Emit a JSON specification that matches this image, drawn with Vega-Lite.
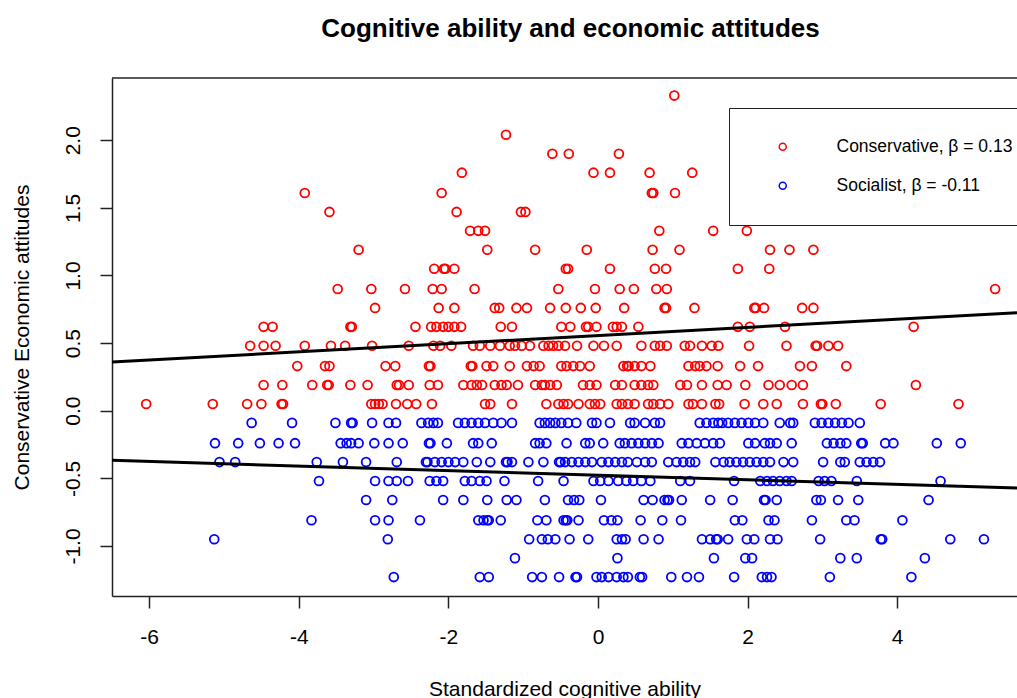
{
"$schema":"https://vega.github.io/schema/vega-lite/v6.json",
"autosize":{"type":"none"},
"padding":{"left":112,"top":78,"right":0,"bottom":102},
"width":905,"height":518,
"background":"white",
"config":{"font":"Liberation Sans","view":{"stroke":null},
 "axis":{"labelFontSize":21,"titleFontSize":21,"titleFontWeight":"normal","labelColor":"black","titleColor":"black","domainColor":"#222","tickColor":"#222","domainWidth":1.5,"tickWidth":1.5,"labelFont":"Liberation Sans","titleFont":"Liberation Sans","grid":false}},
"title":{"text":"Cognitive ability and economic attitudes","fontSize":26,"fontWeight":"bold","font":"Liberation Sans","color":"black","anchor":"middle","offset":14,"baseline":"alphabetic","dx":6},
"datasets":{
"fit":[{"x":-6.497,"y":0.360,"g":"C"},{"x":5.602,"y":0.725,"g":"C"},{"x":-6.497,"y":-0.367,"g":"S"},{"x":5.602,"y":-0.571,"g":"S"}],
"pts":[
{"x":1.02,"y":2.33,"g":"C"},{"x":-1.23,"y":2.04,"g":"C"},
{"x":-0.61,"y":1.90,"g":"C"},{"x":-0.39,"y":1.90,"g":"C"},{"x":0.28,"y":1.90,"g":"C"},
{"x":-1.82,"y":1.76,"g":"C"},{"x":-0.06,"y":1.76,"g":"C"},{"x":0.16,"y":1.76,"g":"C"},{"x":0.69,"y":1.76,"g":"C"},{"x":1.26,"y":1.76,"g":"C"},
{"x":-3.92,"y":1.61,"g":"C"},{"x":-2.09,"y":1.61,"g":"C"},{"x":0.72,"y":1.61,"g":"C"},{"x":0.74,"y":1.61,"g":"C"},{"x":1.03,"y":1.61,"g":"C"},
{"x":-3.59,"y":1.47,"g":"C"},{"x":-1.89,"y":1.47,"g":"C"},{"x":-1.03,"y":1.47,"g":"C"},{"x":-0.97,"y":1.47,"g":"C"},
{"x":-1.71,"y":1.33,"g":"C"},{"x":-1.60,"y":1.33,"g":"C"},{"x":-1.51,"y":1.33,"g":"C"},{"x":0.82,"y":1.33,"g":"C"},{"x":1.54,"y":1.33,"g":"C"},{"x":1.99,"y":1.33,"g":"C"},
{"x":-3.20,"y":1.19,"g":"C"},{"x":-1.48,"y":1.19,"g":"C"},{"x":-0.84,"y":1.19,"g":"C"},{"x":-0.15,"y":1.19,"g":"C"},{"x":0.73,"y":1.19,"g":"C"},{"x":1.09,"y":1.19,"g":"C"},{"x":2.30,"y":1.19,"g":"C"},{"x":2.56,"y":1.19,"g":"C"},{"x":2.88,"y":1.19,"g":"C"},
{"x":-2.19,"y":1.05,"g":"C"},{"x":-2.06,"y":1.05,"g":"C"},{"x":-2.04,"y":1.05,"g":"C"},{"x":-1.92,"y":1.05,"g":"C"},{"x":-0.43,"y":1.05,"g":"C"},{"x":-0.40,"y":1.05,"g":"C"},{"x":0.16,"y":1.05,"g":"C"},{"x":0.76,"y":1.05,"g":"C"},{"x":0.91,"y":1.05,"g":"C"},{"x":1.87,"y":1.05,"g":"C"},{"x":2.29,"y":1.05,"g":"C"},
{"x":-3.48,"y":0.90,"g":"C"},{"x":-3.03,"y":0.90,"g":"C"},{"x":-2.58,"y":0.90,"g":"C"},{"x":-2.21,"y":0.90,"g":"C"},{"x":-2.09,"y":0.90,"g":"C"},{"x":-1.65,"y":0.90,"g":"C"},{"x":-0.53,"y":0.90,"g":"C"},{"x":-0.04,"y":0.90,"g":"C"},{"x":0.29,"y":0.90,"g":"C"},{"x":0.48,"y":0.90,"g":"C"},{"x":0.78,"y":0.90,"g":"C"},{"x":0.92,"y":0.90,"g":"C"},{"x":5.31,"y":0.90,"g":"C"},
{"x":-2.98,"y":0.76,"g":"C"},{"x":-2.13,"y":0.76,"g":"C"},{"x":-1.92,"y":0.76,"g":"C"},{"x":-1.38,"y":0.76,"g":"C"},{"x":-1.32,"y":0.76,"g":"C"},{"x":-1.09,"y":0.76,"g":"C"},{"x":-0.95,"y":0.76,"g":"C"},{"x":-0.64,"y":0.76,"g":"C"},{"x":-0.43,"y":0.76,"g":"C"},{"x":-0.23,"y":0.76,"g":"C"},{"x":-0.03,"y":0.76,"g":"C"},{"x":0.35,"y":0.76,"g":"C"},{"x":0.89,"y":0.76,"g":"C"},{"x":0.91,"y":0.76,"g":"C"},{"x":1.29,"y":0.76,"g":"C"},{"x":2.09,"y":0.76,"g":"C"},{"x":2.11,"y":0.76,"g":"C"},{"x":2.22,"y":0.76,"g":"C"},{"x":2.73,"y":0.76,"g":"C"},{"x":2.88,"y":0.76,"g":"C"},
{"x":-4.47,"y":0.62,"g":"C"},{"x":-4.35,"y":0.62,"g":"C"},{"x":-3.31,"y":0.62,"g":"C"},{"x":-3.29,"y":0.62,"g":"C"},{"x":-2.44,"y":0.62,"g":"C"},{"x":-2.23,"y":0.62,"g":"C"},{"x":-2.16,"y":0.62,"g":"C"},{"x":-2.07,"y":0.62,"g":"C"},{"x":-2.00,"y":0.62,"g":"C"},{"x":-1.92,"y":0.62,"g":"C"},{"x":-1.83,"y":0.62,"g":"C"},{"x":-1.30,"y":0.62,"g":"C"},{"x":-1.15,"y":0.62,"g":"C"},{"x":-0.49,"y":0.62,"g":"C"},{"x":-0.37,"y":0.62,"g":"C"},{"x":-0.16,"y":0.62,"g":"C"},{"x":-0.13,"y":0.62,"g":"C"},{"x":-0.02,"y":0.62,"g":"C"},{"x":0.20,"y":0.62,"g":"C"},{"x":0.25,"y":0.62,"g":"C"},{"x":0.32,"y":0.62,"g":"C"},{"x":0.54,"y":0.62,"g":"C"},{"x":1.87,"y":0.62,"g":"C"},{"x":2.03,"y":0.62,"g":"C"},{"x":2.50,"y":0.62,"g":"C"},{"x":4.22,"y":0.62,"g":"C"},
{"x":-4.65,"y":0.48,"g":"C"},{"x":-4.47,"y":0.48,"g":"C"},{"x":-4.31,"y":0.48,"g":"C"},{"x":-3.92,"y":0.48,"g":"C"},{"x":-3.57,"y":0.48,"g":"C"},{"x":-3.38,"y":0.48,"g":"C"},{"x":-3.02,"y":0.48,"g":"C"},{"x":-2.53,"y":0.48,"g":"C"},{"x":-2.20,"y":0.48,"g":"C"},{"x":-2.11,"y":0.48,"g":"C"},{"x":-1.96,"y":0.48,"g":"C"},{"x":-1.67,"y":0.48,"g":"C"},{"x":-1.58,"y":0.48,"g":"C"},{"x":-1.44,"y":0.48,"g":"C"},{"x":-1.31,"y":0.48,"g":"C"},{"x":-1.18,"y":0.48,"g":"C"},{"x":-1.11,"y":0.48,"g":"C"},{"x":-1.02,"y":0.48,"g":"C"},{"x":-0.91,"y":0.48,"g":"C"},{"x":-0.73,"y":0.48,"g":"C"},{"x":-0.66,"y":0.48,"g":"C"},{"x":-0.60,"y":0.48,"g":"C"},{"x":-0.53,"y":0.48,"g":"C"},{"x":-0.44,"y":0.48,"g":"C"},{"x":-0.28,"y":0.48,"g":"C"},{"x":-0.06,"y":0.48,"g":"C"},{"x":0.08,"y":0.48,"g":"C"},{"x":0.25,"y":0.48,"g":"C"},{"x":0.58,"y":0.48,"g":"C"},{"x":0.76,"y":0.48,"g":"C"},{"x":0.83,"y":0.48,"g":"C"},{"x":0.92,"y":0.48,"g":"C"},{"x":1.16,"y":0.48,"g":"C"},{"x":1.23,"y":0.48,"g":"C"},{"x":1.39,"y":0.48,"g":"C"},{"x":1.52,"y":0.48,"g":"C"},{"x":1.61,"y":0.48,"g":"C"},{"x":2.02,"y":0.48,"g":"C"},{"x":2.52,"y":0.48,"g":"C"},{"x":2.91,"y":0.48,"g":"C"},{"x":2.93,"y":0.48,"g":"C"},{"x":3.08,"y":0.48,"g":"C"},{"x":3.21,"y":0.48,"g":"C"},
{"x":-4.02,"y":0.33,"g":"C"},{"x":-3.65,"y":0.33,"g":"C"},{"x":-3.59,"y":0.33,"g":"C"},{"x":-2.84,"y":0.33,"g":"C"},{"x":-2.71,"y":0.33,"g":"C"},{"x":-2.26,"y":0.33,"g":"C"},{"x":-2.24,"y":0.33,"g":"C"},{"x":-1.70,"y":0.33,"g":"C"},{"x":-1.68,"y":0.33,"g":"C"},{"x":-1.49,"y":0.33,"g":"C"},{"x":-1.40,"y":0.33,"g":"C"},{"x":-1.18,"y":0.33,"g":"C"},{"x":-0.95,"y":0.33,"g":"C"},{"x":-0.86,"y":0.33,"g":"C"},{"x":-0.78,"y":0.33,"g":"C"},{"x":-0.49,"y":0.33,"g":"C"},{"x":-0.42,"y":0.33,"g":"C"},{"x":-0.33,"y":0.33,"g":"C"},{"x":-0.24,"y":0.33,"g":"C"},{"x":-0.11,"y":0.33,"g":"C"},{"x":0.34,"y":0.33,"g":"C"},{"x":0.39,"y":0.33,"g":"C"},{"x":0.41,"y":0.33,"g":"C"},{"x":0.49,"y":0.33,"g":"C"},{"x":0.58,"y":0.33,"g":"C"},{"x":0.70,"y":0.33,"g":"C"},{"x":1.21,"y":0.33,"g":"C"},{"x":1.30,"y":0.33,"g":"C"},{"x":1.36,"y":0.33,"g":"C"},{"x":1.45,"y":0.33,"g":"C"},{"x":1.60,"y":0.33,"g":"C"},{"x":1.90,"y":0.33,"g":"C"},{"x":2.14,"y":0.33,"g":"C"},{"x":2.70,"y":0.33,"g":"C"},{"x":2.86,"y":0.33,"g":"C"},{"x":3.32,"y":0.33,"g":"C"},
{"x":-4.47,"y":0.19,"g":"C"},{"x":-4.22,"y":0.19,"g":"C"},{"x":-3.82,"y":0.19,"g":"C"},{"x":-3.62,"y":0.19,"g":"C"},{"x":-3.60,"y":0.19,"g":"C"},{"x":-3.31,"y":0.19,"g":"C"},{"x":-3.08,"y":0.19,"g":"C"},{"x":-2.69,"y":0.19,"g":"C"},{"x":-2.66,"y":0.19,"g":"C"},{"x":-2.53,"y":0.19,"g":"C"},{"x":-2.25,"y":0.19,"g":"C"},{"x":-2.14,"y":0.19,"g":"C"},{"x":-1.80,"y":0.19,"g":"C"},{"x":-1.69,"y":0.19,"g":"C"},{"x":-1.62,"y":0.19,"g":"C"},{"x":-1.55,"y":0.19,"g":"C"},{"x":-1.38,"y":0.19,"g":"C"},{"x":-1.29,"y":0.19,"g":"C"},{"x":-1.22,"y":0.19,"g":"C"},{"x":-1.07,"y":0.19,"g":"C"},{"x":-0.84,"y":0.19,"g":"C"},{"x":-0.75,"y":0.19,"g":"C"},{"x":-0.71,"y":0.19,"g":"C"},{"x":-0.64,"y":0.19,"g":"C"},{"x":-0.55,"y":0.19,"g":"C"},{"x":-0.20,"y":0.19,"g":"C"},{"x":-0.11,"y":0.19,"g":"C"},{"x":-0.02,"y":0.19,"g":"C"},{"x":0.23,"y":0.19,"g":"C"},{"x":0.32,"y":0.19,"g":"C"},{"x":0.49,"y":0.19,"g":"C"},{"x":0.58,"y":0.19,"g":"C"},{"x":0.67,"y":0.19,"g":"C"},{"x":0.74,"y":0.19,"g":"C"},{"x":1.10,"y":0.19,"g":"C"},{"x":1.19,"y":0.19,"g":"C"},{"x":1.39,"y":0.19,"g":"C"},{"x":1.60,"y":0.19,"g":"C"},{"x":1.72,"y":0.19,"g":"C"},{"x":1.97,"y":0.19,"g":"C"},{"x":2.28,"y":0.19,"g":"C"},{"x":2.43,"y":0.19,"g":"C"},{"x":2.59,"y":0.19,"g":"C"},{"x":2.74,"y":0.19,"g":"C"},{"x":4.25,"y":0.19,"g":"C"},
{"x":-6.04,"y":0.05,"g":"C"},{"x":-5.15,"y":0.05,"g":"C"},{"x":-4.69,"y":0.05,"g":"C"},{"x":-4.50,"y":0.05,"g":"C"},{"x":-4.23,"y":0.05,"g":"C"},{"x":-4.21,"y":0.05,"g":"C"},{"x":-3.03,"y":0.05,"g":"C"},{"x":-2.98,"y":0.05,"g":"C"},{"x":-2.93,"y":0.05,"g":"C"},{"x":-2.88,"y":0.05,"g":"C"},{"x":-2.70,"y":0.05,"g":"C"},{"x":-2.55,"y":0.05,"g":"C"},{"x":-2.43,"y":0.05,"g":"C"},{"x":-2.22,"y":0.05,"g":"C"},{"x":-1.51,"y":0.05,"g":"C"},{"x":-1.44,"y":0.05,"g":"C"},{"x":-1.15,"y":0.05,"g":"C"},{"x":-0.69,"y":0.05,"g":"C"},{"x":-0.53,"y":0.05,"g":"C"},{"x":-0.46,"y":0.05,"g":"C"},{"x":-0.40,"y":0.05,"g":"C"},{"x":-0.26,"y":0.05,"g":"C"},{"x":-0.11,"y":0.05,"g":"C"},{"x":-0.04,"y":0.05,"g":"C"},{"x":0.03,"y":0.05,"g":"C"},{"x":0.25,"y":0.05,"g":"C"},{"x":0.32,"y":0.05,"g":"C"},{"x":0.40,"y":0.05,"g":"C"},{"x":0.49,"y":0.05,"g":"C"},{"x":0.67,"y":0.05,"g":"C"},{"x":0.74,"y":0.05,"g":"C"},{"x":0.83,"y":0.05,"g":"C"},{"x":0.94,"y":0.05,"g":"C"},{"x":1.21,"y":0.05,"g":"C"},{"x":1.27,"y":0.05,"g":"C"},{"x":1.39,"y":0.05,"g":"C"},{"x":1.57,"y":0.05,"g":"C"},{"x":1.62,"y":0.05,"g":"C"},{"x":1.96,"y":0.05,"g":"C"},{"x":2.21,"y":0.05,"g":"C"},{"x":2.39,"y":0.05,"g":"C"},{"x":2.74,"y":0.05,"g":"C"},{"x":2.98,"y":0.05,"g":"C"},{"x":3.00,"y":0.05,"g":"C"},{"x":3.18,"y":0.05,"g":"C"},{"x":3.78,"y":0.05,"g":"C"},{"x":4.82,"y":0.05,"g":"C"},
{"x":-4.63,"y":-0.09,"g":"S"},{"x":-4.09,"y":-0.09,"g":"S"},{"x":-3.51,"y":-0.09,"g":"S"},{"x":-3.30,"y":-0.09,"g":"S"},{"x":-3.28,"y":-0.09,"g":"S"},{"x":-3.02,"y":-0.09,"g":"S"},{"x":-2.80,"y":-0.09,"g":"S"},{"x":-2.70,"y":-0.09,"g":"S"},{"x":-2.36,"y":-0.09,"g":"S"},{"x":-2.27,"y":-0.09,"g":"S"},{"x":-2.20,"y":-0.09,"g":"S"},{"x":-2.14,"y":-0.09,"g":"S"},{"x":-1.87,"y":-0.09,"g":"S"},{"x":-1.78,"y":-0.09,"g":"S"},{"x":-1.69,"y":-0.09,"g":"S"},{"x":-1.60,"y":-0.09,"g":"S"},{"x":-1.51,"y":-0.09,"g":"S"},{"x":-1.40,"y":-0.09,"g":"S"},{"x":-1.29,"y":-0.09,"g":"S"},{"x":-1.15,"y":-0.09,"g":"S"},{"x":-0.78,"y":-0.09,"g":"S"},{"x":-0.71,"y":-0.09,"g":"S"},{"x":-0.64,"y":-0.09,"g":"S"},{"x":-0.57,"y":-0.09,"g":"S"},{"x":-0.49,"y":-0.09,"g":"S"},{"x":-0.40,"y":-0.09,"g":"S"},{"x":-0.29,"y":-0.09,"g":"S"},{"x":-0.08,"y":-0.09,"g":"S"},{"x":-0.02,"y":-0.09,"g":"S"},{"x":0.16,"y":-0.09,"g":"S"},{"x":0.43,"y":-0.09,"g":"S"},{"x":0.49,"y":-0.09,"g":"S"},{"x":0.63,"y":-0.09,"g":"S"},{"x":0.76,"y":-0.09,"g":"S"},{"x":0.83,"y":-0.09,"g":"S"},{"x":1.36,"y":-0.09,"g":"S"},{"x":1.45,"y":-0.09,"g":"S"},{"x":1.54,"y":-0.09,"g":"S"},{"x":1.61,"y":-0.09,"g":"S"},{"x":1.66,"y":-0.09,"g":"S"},{"x":1.74,"y":-0.09,"g":"S"},{"x":1.83,"y":-0.09,"g":"S"},{"x":1.92,"y":-0.09,"g":"S"},{"x":2.01,"y":-0.09,"g":"S"},{"x":2.10,"y":-0.09,"g":"S"},{"x":2.21,"y":-0.09,"g":"S"},{"x":2.43,"y":-0.09,"g":"S"},{"x":2.57,"y":-0.09,"g":"S"},{"x":2.61,"y":-0.09,"g":"S"},{"x":2.90,"y":-0.09,"g":"S"},{"x":2.99,"y":-0.09,"g":"S"},{"x":3.08,"y":-0.09,"g":"S"},{"x":3.17,"y":-0.09,"g":"S"},{"x":3.26,"y":-0.09,"g":"S"},{"x":3.35,"y":-0.09,"g":"S"},{"x":3.50,"y":-0.09,"g":"S"},
{"x":-5.12,"y":-0.24,"g":"S"},{"x":-4.81,"y":-0.24,"g":"S"},{"x":-4.52,"y":-0.24,"g":"S"},{"x":-4.27,"y":-0.24,"g":"S"},{"x":-4.05,"y":-0.24,"g":"S"},{"x":-3.44,"y":-0.24,"g":"S"},{"x":-3.36,"y":-0.24,"g":"S"},{"x":-3.30,"y":-0.24,"g":"S"},{"x":-3.20,"y":-0.24,"g":"S"},{"x":-2.99,"y":-0.24,"g":"S"},{"x":-2.80,"y":-0.24,"g":"S"},{"x":-2.61,"y":-0.24,"g":"S"},{"x":-2.26,"y":-0.24,"g":"S"},{"x":-2.24,"y":-0.24,"g":"S"},{"x":-2.02,"y":-0.24,"g":"S"},{"x":-1.67,"y":-0.24,"g":"S"},{"x":-1.60,"y":-0.24,"g":"S"},{"x":-1.42,"y":-0.24,"g":"S"},{"x":-0.84,"y":-0.24,"g":"S"},{"x":-0.78,"y":-0.24,"g":"S"},{"x":-0.69,"y":-0.24,"g":"S"},{"x":-0.42,"y":-0.24,"g":"S"},{"x":-0.17,"y":-0.24,"g":"S"},{"x":-0.11,"y":-0.24,"g":"S"},{"x":0.07,"y":-0.24,"g":"S"},{"x":0.29,"y":-0.24,"g":"S"},{"x":0.36,"y":-0.24,"g":"S"},{"x":0.45,"y":-0.24,"g":"S"},{"x":0.54,"y":-0.24,"g":"S"},{"x":0.63,"y":-0.24,"g":"S"},{"x":0.72,"y":-0.24,"g":"S"},{"x":0.81,"y":-0.24,"g":"S"},{"x":1.12,"y":-0.24,"g":"S"},{"x":1.21,"y":-0.24,"g":"S"},{"x":1.32,"y":-0.24,"g":"S"},{"x":1.43,"y":-0.24,"g":"S"},{"x":1.54,"y":-0.24,"g":"S"},{"x":1.63,"y":-0.24,"g":"S"},{"x":2.01,"y":-0.24,"g":"S"},{"x":2.10,"y":-0.24,"g":"S"},{"x":2.23,"y":-0.24,"g":"S"},{"x":2.30,"y":-0.24,"g":"S"},{"x":2.39,"y":-0.24,"g":"S"},{"x":2.59,"y":-0.24,"g":"S"},{"x":3.06,"y":-0.24,"g":"S"},{"x":3.15,"y":-0.24,"g":"S"},{"x":3.24,"y":-0.24,"g":"S"},{"x":3.32,"y":-0.24,"g":"S"},{"x":3.52,"y":-0.24,"g":"S"},{"x":3.54,"y":-0.24,"g":"S"},{"x":3.84,"y":-0.24,"g":"S"},{"x":3.95,"y":-0.24,"g":"S"},{"x":4.53,"y":-0.24,"g":"S"},{"x":4.85,"y":-0.24,"g":"S"},
{"x":-5.06,"y":-0.38,"g":"S"},{"x":-4.85,"y":-0.38,"g":"S"},{"x":-3.76,"y":-0.38,"g":"S"},{"x":-3.41,"y":-0.38,"g":"S"},{"x":-3.10,"y":-0.38,"g":"S"},{"x":-2.69,"y":-0.38,"g":"S"},{"x":-2.30,"y":-0.38,"g":"S"},{"x":-2.28,"y":-0.38,"g":"S"},{"x":-2.18,"y":-0.38,"g":"S"},{"x":-2.09,"y":-0.38,"g":"S"},{"x":-2.00,"y":-0.38,"g":"S"},{"x":-1.91,"y":-0.38,"g":"S"},{"x":-1.80,"y":-0.38,"g":"S"},{"x":-1.62,"y":-0.38,"g":"S"},{"x":-1.44,"y":-0.38,"g":"S"},{"x":-1.23,"y":-0.38,"g":"S"},{"x":-1.21,"y":-0.38,"g":"S"},{"x":-1.15,"y":-0.38,"g":"S"},{"x":-0.93,"y":-0.38,"g":"S"},{"x":-0.73,"y":-0.38,"g":"S"},{"x":-0.52,"y":-0.38,"g":"S"},{"x":-0.50,"y":-0.38,"g":"S"},{"x":-0.44,"y":-0.38,"g":"S"},{"x":-0.35,"y":-0.38,"g":"S"},{"x":-0.26,"y":-0.38,"g":"S"},{"x":-0.17,"y":-0.38,"g":"S"},{"x":-0.08,"y":-0.38,"g":"S"},{"x":0.05,"y":-0.38,"g":"S"},{"x":0.14,"y":-0.38,"g":"S"},{"x":0.23,"y":-0.38,"g":"S"},{"x":0.32,"y":-0.38,"g":"S"},{"x":0.40,"y":-0.38,"g":"S"},{"x":0.52,"y":-0.38,"g":"S"},{"x":0.63,"y":-0.38,"g":"S"},{"x":0.72,"y":-0.38,"g":"S"},{"x":0.94,"y":-0.38,"g":"S"},{"x":1.05,"y":-0.38,"g":"S"},{"x":1.14,"y":-0.38,"g":"S"},{"x":1.23,"y":-0.38,"g":"S"},{"x":1.30,"y":-0.38,"g":"S"},{"x":1.57,"y":-0.38,"g":"S"},{"x":1.68,"y":-0.38,"g":"S"},{"x":1.76,"y":-0.38,"g":"S"},{"x":1.85,"y":-0.38,"g":"S"},{"x":1.94,"y":-0.38,"g":"S"},{"x":2.03,"y":-0.38,"g":"S"},{"x":2.12,"y":-0.38,"g":"S"},{"x":2.21,"y":-0.38,"g":"S"},{"x":2.30,"y":-0.38,"g":"S"},{"x":2.48,"y":-0.38,"g":"S"},{"x":2.61,"y":-0.38,"g":"S"},{"x":3.01,"y":-0.38,"g":"S"},{"x":3.24,"y":-0.38,"g":"S"},{"x":3.30,"y":-0.38,"g":"S"},{"x":3.50,"y":-0.38,"g":"S"},{"x":3.59,"y":-0.38,"g":"S"},{"x":3.68,"y":-0.38,"g":"S"},{"x":3.77,"y":-0.38,"g":"S"},
{"x":-3.73,"y":-0.52,"g":"S"},{"x":-2.98,"y":-0.52,"g":"S"},{"x":-2.80,"y":-0.52,"g":"S"},{"x":-2.69,"y":-0.52,"g":"S"},{"x":-2.54,"y":-0.52,"g":"S"},{"x":-2.25,"y":-0.52,"g":"S"},{"x":-2.16,"y":-0.52,"g":"S"},{"x":-2.07,"y":-0.52,"g":"S"},{"x":-1.78,"y":-0.52,"g":"S"},{"x":-1.69,"y":-0.52,"g":"S"},{"x":-1.58,"y":-0.52,"g":"S"},{"x":-1.49,"y":-0.52,"g":"S"},{"x":-1.25,"y":-0.52,"g":"S"},{"x":-0.80,"y":-0.52,"g":"S"},{"x":-0.46,"y":-0.52,"g":"S"},{"x":-0.06,"y":-0.52,"g":"S"},{"x":0.03,"y":-0.52,"g":"S"},{"x":0.14,"y":-0.52,"g":"S"},{"x":0.27,"y":-0.52,"g":"S"},{"x":0.38,"y":-0.52,"g":"S"},{"x":0.47,"y":-0.52,"g":"S"},{"x":0.58,"y":-0.52,"g":"S"},{"x":0.70,"y":-0.52,"g":"S"},{"x":1.10,"y":-0.52,"g":"S"},{"x":1.23,"y":-0.52,"g":"S"},{"x":1.82,"y":-0.52,"g":"S"},{"x":2.17,"y":-0.52,"g":"S"},{"x":2.26,"y":-0.52,"g":"S"},{"x":2.34,"y":-0.52,"g":"S"},{"x":2.43,"y":-0.52,"g":"S"},{"x":2.52,"y":-0.52,"g":"S"},{"x":2.59,"y":-0.52,"g":"S"},{"x":2.95,"y":-0.52,"g":"S"},{"x":3.03,"y":-0.52,"g":"S"},{"x":3.12,"y":-0.52,"g":"S"},{"x":3.46,"y":-0.52,"g":"S"},{"x":4.58,"y":-0.52,"g":"S"},
{"x":-3.10,"y":-0.66,"g":"S"},{"x":-2.75,"y":-0.66,"g":"S"},{"x":-2.07,"y":-0.66,"g":"S"},{"x":-1.80,"y":-0.66,"g":"S"},{"x":-1.48,"y":-0.66,"g":"S"},{"x":-1.22,"y":-0.66,"g":"S"},{"x":-1.09,"y":-0.66,"g":"S"},{"x":-0.71,"y":-0.66,"g":"S"},{"x":-0.40,"y":-0.66,"g":"S"},{"x":-0.32,"y":-0.66,"g":"S"},{"x":-0.25,"y":-0.66,"g":"S"},{"x":0.04,"y":-0.66,"g":"S"},{"x":0.61,"y":-0.66,"g":"S"},{"x":0.73,"y":-0.66,"g":"S"},{"x":0.89,"y":-0.66,"g":"S"},{"x":0.93,"y":-0.66,"g":"S"},{"x":0.95,"y":-0.66,"g":"S"},{"x":1.12,"y":-0.66,"g":"S"},{"x":1.50,"y":-0.66,"g":"S"},{"x":1.80,"y":-0.66,"g":"S"},{"x":2.22,"y":-0.66,"g":"S"},{"x":2.24,"y":-0.66,"g":"S"},{"x":2.39,"y":-0.66,"g":"S"},{"x":2.92,"y":-0.66,"g":"S"},{"x":2.98,"y":-0.66,"g":"S"},{"x":3.21,"y":-0.66,"g":"S"},{"x":3.48,"y":-0.66,"g":"S"},{"x":4.42,"y":-0.66,"g":"S"},
{"x":-3.83,"y":-0.81,"g":"S"},{"x":-2.98,"y":-0.81,"g":"S"},{"x":-2.80,"y":-0.81,"g":"S"},{"x":-2.38,"y":-0.81,"g":"S"},{"x":-1.60,"y":-0.81,"g":"S"},{"x":-1.53,"y":-0.81,"g":"S"},{"x":-1.48,"y":-0.81,"g":"S"},{"x":-1.46,"y":-0.81,"g":"S"},{"x":-1.30,"y":-0.81,"g":"S"},{"x":-0.81,"y":-0.81,"g":"S"},{"x":-0.69,"y":-0.81,"g":"S"},{"x":-0.46,"y":-0.81,"g":"S"},{"x":-0.43,"y":-0.81,"g":"S"},{"x":-0.41,"y":-0.81,"g":"S"},{"x":-0.26,"y":-0.81,"g":"S"},{"x":0.08,"y":-0.81,"g":"S"},{"x":0.18,"y":-0.81,"g":"S"},{"x":0.26,"y":-0.81,"g":"S"},{"x":0.57,"y":-0.81,"g":"S"},{"x":0.86,"y":-0.81,"g":"S"},{"x":1.11,"y":-0.81,"g":"S"},{"x":1.83,"y":-0.81,"g":"S"},{"x":1.93,"y":-0.81,"g":"S"},{"x":2.28,"y":-0.81,"g":"S"},{"x":2.36,"y":-0.81,"g":"S"},{"x":2.86,"y":-0.81,"g":"S"},{"x":3.32,"y":-0.81,"g":"S"},{"x":3.43,"y":-0.81,"g":"S"},{"x":4.07,"y":-0.81,"g":"S"},
{"x":-5.13,"y":-0.95,"g":"S"},{"x":-2.81,"y":-0.95,"g":"S"},{"x":-0.92,"y":-0.95,"g":"S"},{"x":-0.75,"y":-0.95,"g":"S"},{"x":-0.67,"y":-0.95,"g":"S"},{"x":-0.57,"y":-0.95,"g":"S"},{"x":-0.38,"y":-0.95,"g":"S"},{"x":-0.13,"y":-0.95,"g":"S"},{"x":0.25,"y":-0.95,"g":"S"},{"x":0.32,"y":-0.95,"g":"S"},{"x":0.37,"y":-0.95,"g":"S"},{"x":0.61,"y":-0.95,"g":"S"},{"x":0.81,"y":-0.95,"g":"S"},{"x":1.39,"y":-0.95,"g":"S"},{"x":1.50,"y":-0.95,"g":"S"},{"x":1.58,"y":-0.95,"g":"S"},{"x":1.60,"y":-0.95,"g":"S"},{"x":1.74,"y":-0.95,"g":"S"},{"x":1.99,"y":-0.95,"g":"S"},{"x":2.09,"y":-0.95,"g":"S"},{"x":2.30,"y":-0.95,"g":"S"},{"x":2.40,"y":-0.95,"g":"S"},{"x":2.97,"y":-0.95,"g":"S"},{"x":3.78,"y":-0.95,"g":"S"},{"x":3.80,"y":-0.95,"g":"S"},{"x":4.71,"y":-0.95,"g":"S"},{"x":5.16,"y":-0.95,"g":"S"},
{"x":-1.11,"y":-1.09,"g":"S"},{"x":0.26,"y":-1.09,"g":"S"},{"x":1.55,"y":-1.09,"g":"S"},{"x":1.97,"y":-1.09,"g":"S"},{"x":2.06,"y":-1.09,"g":"S"},{"x":3.24,"y":-1.09,"g":"S"},{"x":3.46,"y":-1.09,"g":"S"},{"x":4.37,"y":-1.09,"g":"S"},
{"x":-2.73,"y":-1.23,"g":"S"},{"x":-1.58,"y":-1.23,"g":"S"},{"x":-1.46,"y":-1.23,"g":"S"},{"x":-0.88,"y":-1.23,"g":"S"},{"x":-0.75,"y":-1.23,"g":"S"},{"x":-0.52,"y":-1.23,"g":"S"},{"x":-0.30,"y":-1.23,"g":"S"},{"x":-0.28,"y":-1.23,"g":"S"},{"x":-0.02,"y":-1.23,"g":"S"},{"x":0.05,"y":-1.23,"g":"S"},{"x":0.14,"y":-1.23,"g":"S"},{"x":0.25,"y":-1.23,"g":"S"},{"x":0.34,"y":-1.23,"g":"S"},{"x":0.40,"y":-1.23,"g":"S"},{"x":0.56,"y":-1.23,"g":"S"},{"x":0.59,"y":-1.23,"g":"S"},{"x":0.98,"y":-1.23,"g":"S"},{"x":1.19,"y":-1.23,"g":"S"},{"x":1.35,"y":-1.23,"g":"S"},{"x":1.82,"y":-1.23,"g":"S"},{"x":2.19,"y":-1.23,"g":"S"},{"x":2.26,"y":-1.23,"g":"S"},{"x":2.32,"y":-1.23,"g":"S"},{"x":3.10,"y":-1.23,"g":"S"},{"x":4.19,"y":-1.23,"g":"S"}
]},
"layer":[
{"data":{"name":"pts"},
 "mark":{"type":"point","shape":"circle","filled":false,"size":78,"strokeWidth":1.8,"opacity":1},
 "encoding":{
  "x":{"field":"x","type":"quantitative","title":"Standardized cognitive ability","scale":{"domain":[-6.497,5.602],"nice":false,"zero":false},
       "axis":{"values":[-6,-4,-2,0,2,4],"format":"d","labelExpr":"replace(format(datum.value, 'd'), '−', '-')","tickSize":12,"labelPadding":18,"titlePadding":31,"labelFlush":false}},
  "y":{"field":"y","type":"quantitative","title":"Conservative Economic attitudes","scale":{"domain":[-1.37,2.46],"nice":false,"zero":false},
       "axis":{"values":[-1,-0.5,0,0.5,1,1.5,2],"format":".1f","labelExpr":"replace(format(datum.value, '.1f'), '−', '-')","labelAngle":-90,"tickSize":12,"labelPadding":17,"titlePadding":30}},
  "color":{"field":"g","type":"nominal","scale":{"domain":["C","S"],"range":["#ff0000","#0000ff"]},
   "legend":{"orient":"none","legendX":617,"legendY":30,"title":null,"labelExpr":"datum.label == 'C' ? 'Conservative, β = 0.13' : 'Socialist, β = -0.11'","labelFontSize":17.5,"labelFont":"Liberation Sans","labelColor":"black","labelLimit":400,"strokeColor":"#222","fillColor":"white","padding":30,"symbolOffset":15,"symbolSize":49,"symbolStrokeWidth":1.5,"symbolType":"circle","labelOffset":45,"rowPadding":20}}
 }},
{"data":{"name":"fit"},
 "mark":{"type":"line","color":"black","strokeWidth":3},
 "encoding":{
  "x":{"field":"x","type":"quantitative","title":"Standardized cognitive ability","scale":{"domain":[-6.497,5.602],"nice":false,"zero":false}},
  "y":{"field":"y","type":"quantitative","title":"Conservative Economic attitudes","scale":{"domain":[-1.37,2.46],"nice":false,"zero":false}},
  "detail":{"field":"g","type":"nominal"}
 }},
{"data":{"values":[{"top":2.46}]},
 "mark":{"type":"rule","color":"#222","strokeWidth":1.5},
 "encoding":{
  "y":{"field":"top","type":"quantitative","title":"Conservative Economic attitudes","scale":{"domain":[-1.37,2.46],"nice":false,"zero":false}}
 }}
]
}
